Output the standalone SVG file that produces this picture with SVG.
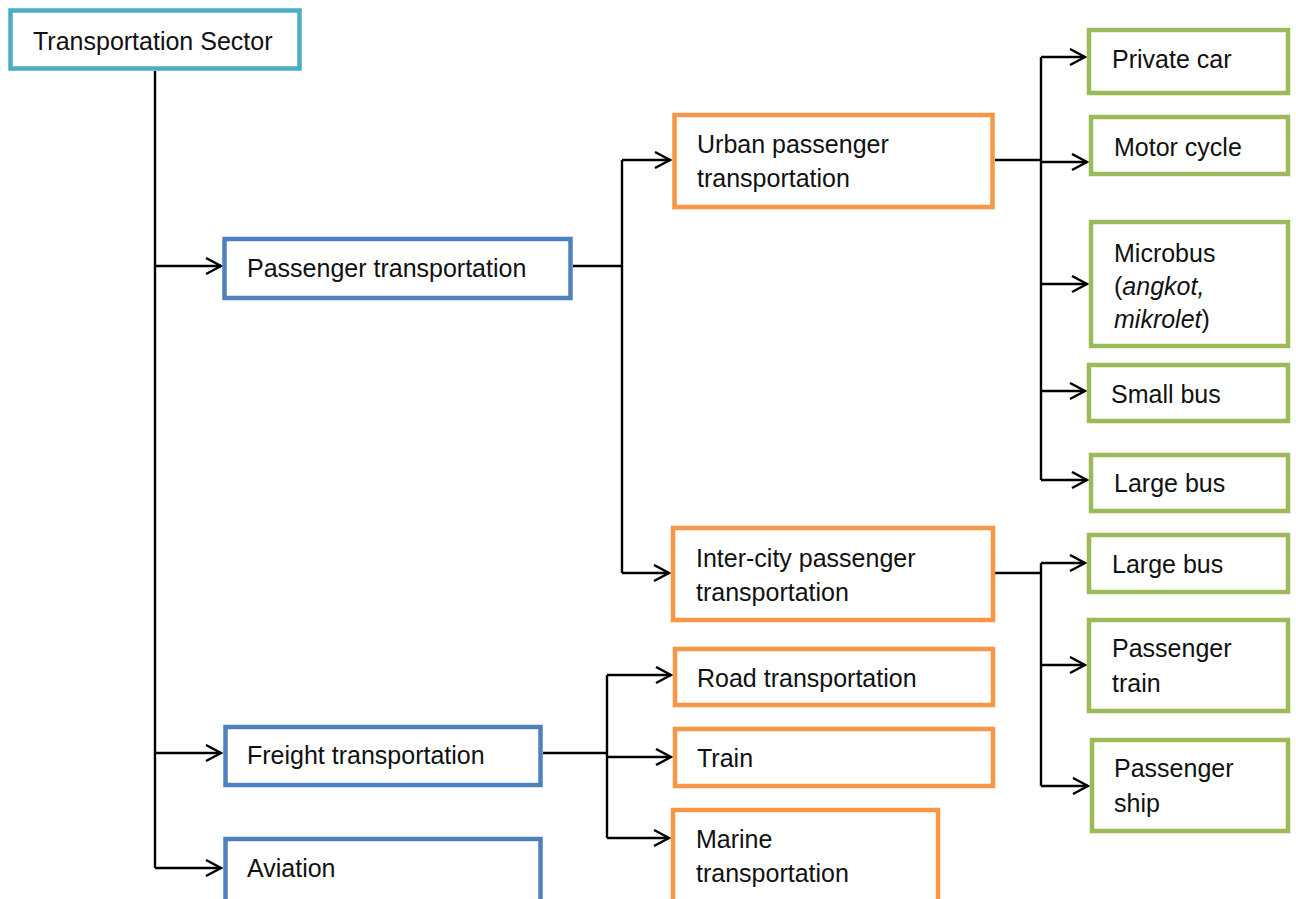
<svg xmlns="http://www.w3.org/2000/svg" width="1296" height="899" viewBox="0 0 1296 899">
<style>
.box{fill:#fff;stroke-width:4.5}
.teal{stroke:#4BACC6}
.blue{stroke:#4F81BD}
.orange{stroke:#F79646}
.green{stroke:#9BBB59}
text{font-family:"Liberation Sans",Arial,sans-serif;font-size:25px;fill:#111}
.conn{fill:none;stroke:#000;stroke-width:2.4}
</style>
<defs>
<marker id="arr" markerUnits="userSpaceOnUse" markerWidth="20" markerHeight="20" refX="16" refY="9" orient="auto">
<path d="M1,1 L16,9 L1,17" fill="none" stroke="#000" stroke-width="2.4"/>
</marker>
</defs>
<rect width="1296" height="899" fill="#fff"/>
<g id="connectors">
<path class="conn" d="M155,71 V868"/>
<path class="conn" d="M155,266 H221" marker-end="url(#arr)"/>
<path class="conn" d="M155,753 H221" marker-end="url(#arr)"/>
<path class="conn" d="M155,868 H221" marker-end="url(#arr)"/>
<path class="conn" d="M573,266 H622"/>
<path class="conn" d="M622,160 V573"/>
<path class="conn" d="M622,160 H670" marker-end="url(#arr)"/>
<path class="conn" d="M622,573 H669" marker-end="url(#arr)"/>
<path class="conn" d="M995,160 H1041"/>
<path class="conn" d="M1041,57 V480"/>
<path class="conn" d="M1041,57 H1085" marker-end="url(#arr)"/>
<path class="conn" d="M1041,162 H1087" marker-end="url(#arr)"/>
<path class="conn" d="M1041,284 H1087" marker-end="url(#arr)"/>
<path class="conn" d="M1041,391 H1085" marker-end="url(#arr)"/>
<path class="conn" d="M1041,480 H1087" marker-end="url(#arr)"/>
<path class="conn" d="M995,573 H1041"/>
<path class="conn" d="M1041,563 V786"/>
<path class="conn" d="M1041,563 H1085" marker-end="url(#arr)"/>
<path class="conn" d="M1041,665 H1085" marker-end="url(#arr)"/>
<path class="conn" d="M1041,786 H1088" marker-end="url(#arr)"/>
<path class="conn" d="M543,753 H607"/>
<path class="conn" d="M607,675 V838"/>
<path class="conn" d="M607,675 H671" marker-end="url(#arr)"/>
<path class="conn" d="M607,757 H671" marker-end="url(#arr)"/>
<path class="conn" d="M607,838 H669" marker-end="url(#arr)"/>
</g>
<g id="n-sector"><rect class="box teal" x="10.5" y="10.5" width="289" height="58"/><text x="33" y="50">Transportation Sector</text></g>
<g id="n-passenger"><rect class="box blue" x="224.5" y="239" width="346" height="59"/><text x="247" y="277">Passenger transportation</text></g>
<g id="n-freight"><rect class="box blue" x="225.5" y="727" width="315" height="58"/><text x="247" y="764">Freight transportation</text></g>
<g id="n-aviation"><rect class="box blue" x="225.5" y="839" width="315" height="70"/><text x="247" y="877">Aviation</text></g>
<g id="n-urban"><rect class="box orange" x="674.5" y="115" width="318" height="92"/><text x="697" y="153">Urban passenger</text><text x="697" y="187">transportation</text></g>
<g id="n-intercity"><rect class="box orange" x="673" y="528" width="320" height="92"/><text x="696" y="567">Inter-city passenger</text><text x="696" y="601">transportation</text></g>
<g id="n-road"><rect class="box orange" x="675" y="649" width="318" height="56"/><text x="697" y="687">Road transportation</text></g>
<g id="n-train"><rect class="box orange" x="675" y="729" width="318" height="57"/><text x="697" y="767">Train</text></g>
<g id="n-marine"><rect class="box orange" x="673" y="810" width="265" height="100"/><text x="696" y="848">Marine</text><text x="696" y="882">transportation</text></g>
<g id="n-privatecar"><rect class="box green" x="1089" y="30" width="199" height="63"/><text x="1112" y="68">Private car</text></g>
<g id="n-motorcycle"><rect class="box green" x="1091" y="117" width="197" height="57"/><text x="1114" y="156">Motor cycle</text></g>
<g id="n-microbus"><rect class="box green" x="1091" y="222" width="197" height="124"/><text x="1114" y="262">Microbus</text><text x="1114" y="295">(<tspan font-style="italic">angkot,</tspan></text><text x="1114" y="328"><tspan font-style="italic">mikrolet</tspan>)</text></g>
<g id="n-smallbus"><rect class="box green" x="1089" y="365" width="199" height="56"/><text x="1111" y="403">Small bus</text></g>
<g id="n-largebus1"><rect class="box green" x="1091" y="455" width="197" height="56"/><text x="1114" y="492">Large bus</text></g>
<g id="n-largebus2"><rect class="box green" x="1089" y="535" width="199" height="57"/><text x="1112" y="573">Large bus</text></g>
<g id="n-passtrain"><rect class="box green" x="1089" y="620" width="199" height="91"/><text x="1112" y="657">Passenger</text><text x="1112" y="692">train</text></g>
<g id="n-passship"><rect class="box green" x="1092" y="740" width="196" height="91"/><text x="1114" y="777">Passenger</text><text x="1114" y="812">ship</text></g>
</svg>
